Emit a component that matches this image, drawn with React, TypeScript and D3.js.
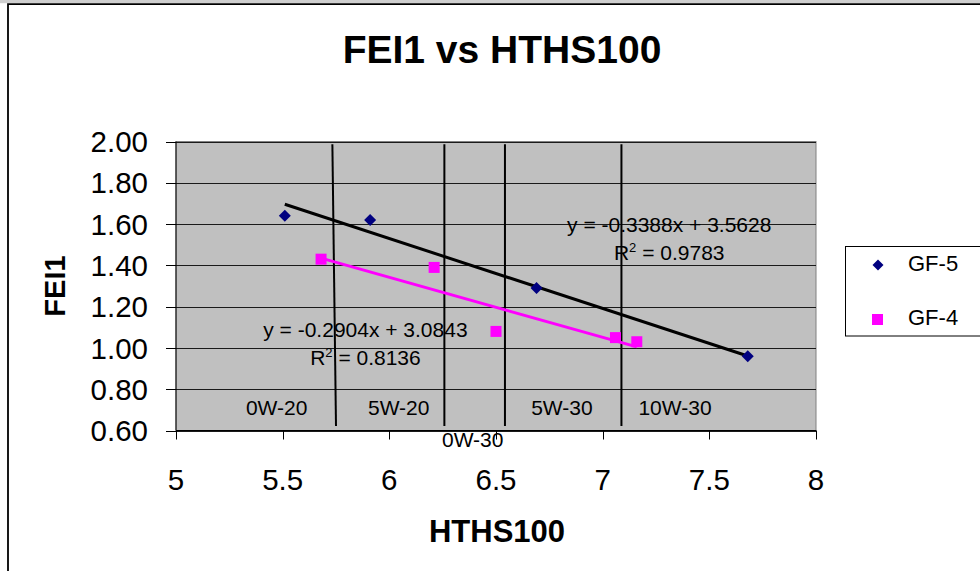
import React from "react";
import * as d3 from "d3";

const xTicks = [5, 5.5, 6, 6.5, 7, 7.5, 8];
const yTicks = [0.6, 0.8, 1.0, 1.2, 1.4, 1.6, 1.8, 2.0];

const gf5X = [5.51, 5.91, 6.69, 7.68];
const gf5Y = [1.64, 1.62, 1.29, 0.96];
const gf4X = [5.68, 6.21, 6.5, 7.06, 7.16];
const gf4Y = [1.43, 1.39, 1.08, 1.05, 1.03];

const seriesNames = ["GF-5", "GF-4"];
const trendSlopes = [-0.3388, -0.2904];
const trendIntercepts = [3.5628, 3.0843];
const equationTexts = ["y = -0.3388x + 3.5628", "y = -0.2904x + 3.0843"];
const r2Texts = ["0.9783", "0.8136"];

const gradeNames = ["0W-20", "5W-20", "0W-30", "5W-30", "10W-30"];
const dividerTopX = [5.733, 6.258, 6.542, 7.088];
const dividerBottomX = [5.75, 6.258, 6.542, 7.088];

const FONT = "'Liberation Sans', Arial, Helvetica, sans-serif";

export default function App() {
  const W = 980;
  const H = 571;
  const left = 176;
  const right = 816;
  const top = 141.5;
  const bottom = 430.5;

  const x = d3.scaleLinear().domain([5, 8]).range([left, right]);
  const y = d3.scaleLinear().domain([0.6, 2.0]).range([bottom, top]);

  const colors = ["#000080", "#FF00FF"];
  const trendColors = ["#000000", "#FF00FF"];
  const seriesX = [gf5X, gf4X];

  const line = d3
    .line<[number, number]>()
    .x((d) => x(d[0]))
    .y((d) => y(d[1]));

  const trendPaths = seriesX.map((xs, i) => {
    const x0 = d3.min(xs) as number;
    const x1 = d3.max(xs) as number;
    return line([
      [x0, trendSlopes[i] * x0 + trendIntercepts[i]],
      [x1, trendSlopes[i] * x1 + trendIntercepts[i]],
    ]);
  });

  const diamond = (cx: number, cy: number, r: number) =>
    `M${cx},${cy - r}L${cx + r},${cy}L${cx},${cy + r}L${cx - r},${cy}Z`;

  const eqPos = [
    { x: 7.312, y: 1.563, ry: 1.426 },
    { x: 5.888, y: 1.053, ry: 0.917 },
  ];
  const gradePos = [
    { x: 5.472, y: 0.675 },
    { x: 6.044, y: 0.675 },
    { x: 6.391, y: 0.52 },
    { x: 6.809, y: 0.675 },
    { x: 7.339, y: 0.675 },
  ];

  return (
    <div style={{ position: "absolute", left: 0, top: 0 }}>
      <svg width={W} height={H} style={{ display: "block", fontFamily: FONT }}>
        <rect x={0} y={0} width={W} height={H} fill="#ffffff" />
        <rect x={0} y={0} width={W} height={3.2} fill="#cfcfcf" />
        <path d={`M8,${H + 5}L8,4.2L${W + 5},4.2`} fill="none" stroke="#000" strokeWidth={1.8} />

        <text x={502} y={63} textAnchor="middle" fontSize={39} fontWeight="bold" fill="#000">
          FEI1 vs HTHS100
        </text>

        <rect x={left} y={top} width={right - left} height={bottom - top} fill="#C0C0C0" stroke="#808080" strokeWidth={1} />

        {yTicks.map((t) => (
          <line key={"g" + t} x1={left} x2={right} y1={Math.round(y(t)) + 0.5} y2={Math.round(y(t)) + 0.5} stroke="#1a1a1a" strokeWidth={1} />
        ))}

        <line x1={left} x2={left} y1={top} y2={bottom} stroke="#000" strokeWidth={1} />
        <line x1={left} x2={right} y1={bottom} y2={bottom} stroke="#000" strokeWidth={1} />
        {yTicks.map((t) => (
          <g key={"yt" + t}>
            <line x1={left - 10} x2={left} y1={Math.round(y(t)) + 0.5} y2={Math.round(y(t)) + 0.5} stroke="#000" strokeWidth={1} />
            <text x={148} y={y(t)} dy="0.36em" textAnchor="end" fontSize={29.5} fill="#000">
              {t.toFixed(2)}
            </text>
          </g>
        ))}
        {xTicks.map((t) => (
          <g key={"xt" + t}>
            <line x1={Math.round(x(t)) + 0.5} x2={Math.round(x(t)) + 0.5} y1={bottom} y2={bottom + 9} stroke="#000" strokeWidth={1} />
            <text x={x(t)} y={490} textAnchor="middle" fontSize={29.5} fill="#000">
              {String(t)}
            </text>
          </g>
        ))}

        <text x={497} y={542} textAnchor="middle" fontSize={31} fontWeight="bold" fill="#000">
          HTHS100
        </text>
        <text transform={`translate(65,286) rotate(-90)`} textAnchor="middle" fontSize={29} fontWeight="bold" fill="#000">
          FEI1
        </text>

        {dividerTopX.map((d, i) => (
          <line key={"div" + i} x1={x(d)} x2={x(dividerBottomX[i])} y1={y(1.987)} y2={y(0.622)} stroke="#000" strokeWidth={2} />
        ))}
        {gradeNames.map((g, i) => (
          <text key={g} x={x(gradePos[i].x)} y={y(gradePos[i].y)} textAnchor="middle" fontSize={21} fill="#000">
            {g}
          </text>
        ))}

        {trendPaths.map((p, i) => (
          <path key={"tr" + i} d={p || ""} fill="none" stroke={trendColors[i]} strokeWidth={3} />
        ))}

        {gf5X.map((v, i) => (
          <path key={"p5" + i} d={diamond(x(v), y(gf5Y[i]), 6)} fill={colors[0]} />
        ))}
        {gf4X.map((v, i) => (
          <rect key={"p4" + i} x={x(v) - 5.5} y={y(gf4Y[i]) - 5.5} width={11} height={11} fill={colors[1]} />
        ))}

        {equationTexts.map((eq, i) => (
          <g key={"eq" + i} fontSize={21} fill="#000">
            <text x={x(eqPos[i].x)} y={y(eqPos[i].y)} textAnchor="middle">
              {eq}
            </text>
            <text x={x(eqPos[i].x)} y={y(eqPos[i].ry)} textAnchor="middle">
              <tspan>R</tspan>
              <tspan fontSize={13} dy={-8}>2</tspan>
              <tspan dy={8}>{" = " + r2Texts[i]}</tspan>
            </text>
          </g>
        ))}

        <rect x={845.5} y={246.5} width={150} height={89.5} fill="#ffffff" stroke="#000" strokeWidth={1} />
        <path d={diamond(878, 265, 5.5)} fill={colors[0]} />
        <rect x={872} y={314} width={11} height={11} fill={colors[1]} />
        <text x={908} y={271} fontSize={22} fill="#000">
          {seriesNames[0]}
        </text>
        <text x={908} y={325} fontSize={22} fill="#000">
          {seriesNames[1]}
        </text>
      </svg>
    </div>
  );
}
